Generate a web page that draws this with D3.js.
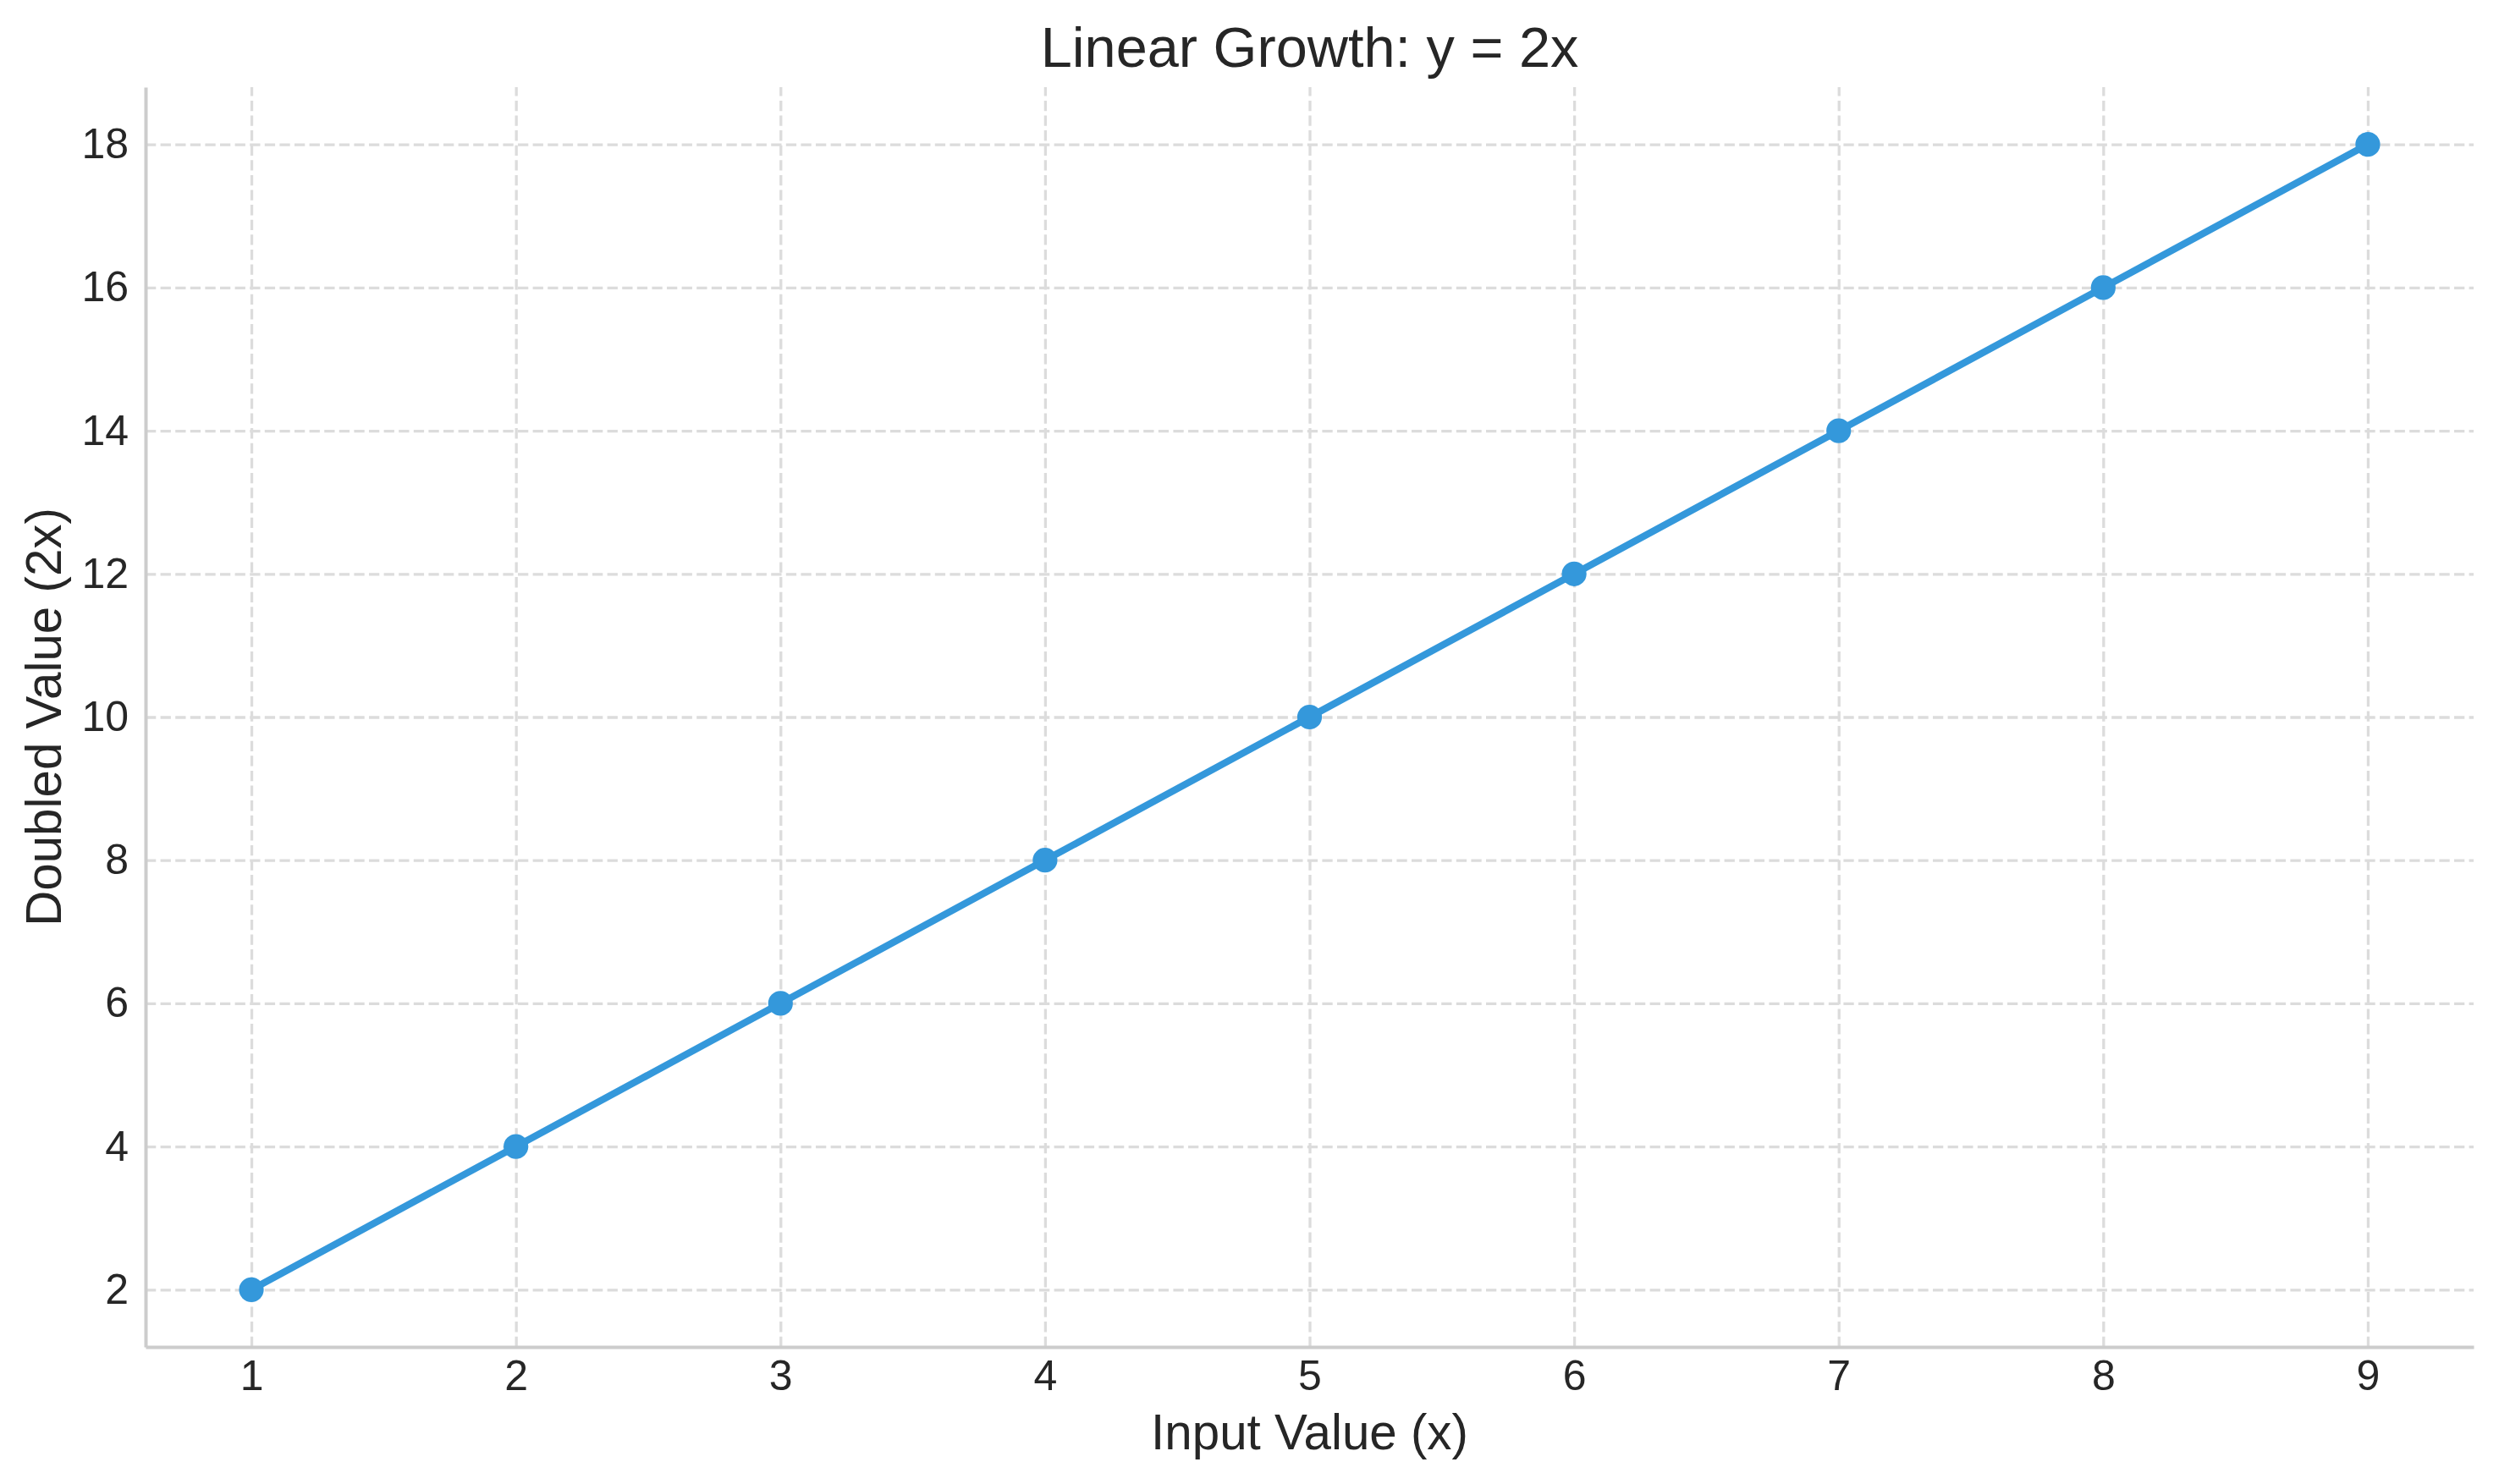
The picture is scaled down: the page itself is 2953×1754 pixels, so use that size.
<!DOCTYPE html>
<html lang="en">
<head>
    <meta charset="UTF-8">
    <title>Linear Growth: y = 2x</title>
    <script src="https://d3js.org/d3.v7.min.js"></script>
    <style>
        body { margin: 0; background: #fff; }
        text { font-family: "Liberation Sans", Arial, sans-serif; fill: #262626; }
    </style>
</head>
<body>
    <svg width="2953" height="1754"></svg>

    <script>
        // data
        const xValues = [1, 2, 3, 4, 5, 6, 7, 8, 9];
        const yValues = [2, 4, 6, 8, 10, 12, 14, 16, 18];
        const xTicks = [1, 2, 3, 4, 5, 6, 7, 8, 9];
        const yTicks = [2, 4, 6, 8, 10, 12, 14, 16, 18];

        const width = 2953;
        const height = 1754;
        const margin = { top: 103, right: 30, bottom: 162, left: 172 };
        const plotW = width - margin.left - margin.right;
        const plotH = height - margin.top - margin.bottom;

        const lineColor = "#3498db";
        const gridColor = "#dcdcdc";
        const spineColor = "#cccccc";

        const svg = d3.select("svg")
            .attr("width", width)
            .attr("height", height);

        const g = svg.append("g")
            .attr("transform", `translate(${margin.left},${margin.top})`);

        // 5% padding like matplotlib
        const x = d3.scaleLinear().domain([0.6, 9.4]).range([0, plotW]);
        const y = d3.scaleLinear().domain([1.2, 18.8]).range([plotH, 0]);

        // grid
        const gridX = g.append("g")
            .attr("transform", `translate(0,${plotH})`)
            .call(d3.axisBottom(x).tickValues(xTicks).tickSize(-plotH).tickFormat(""));
        const gridY = g.append("g")
            .call(d3.axisLeft(y).tickValues(yTicks).tickSize(-plotW).tickFormat(""));
        [gridX, gridY].forEach(gr => {
            gr.select(".domain").remove();
            gr.selectAll(".tick line")
                .attr("stroke", gridColor)
                .attr("stroke-width", 3.3)
                .attr("stroke-dasharray", "12.3,5.3");
        });

        // line + markers
        const pts = xValues.map((v, i) => [v, yValues[i]]);
        const line = d3.line().x(d => x(d[0])).y(d => y(d[1]));

        g.append("path")
            .datum(pts)
            .attr("d", line)
            .attr("fill", "none")
            .attr("stroke", lineColor)
            .attr("stroke-width", 8.3)
            .attr("stroke-linejoin", "round")
            .attr("stroke-linecap", "butt");

        g.selectAll("circle.pt")
            .data(pts)
            .enter().append("circle")
            .attr("class", "pt")
            .attr("cx", d => x(d[0]))
            .attr("cy", d => y(d[1]))
            .attr("r", 14.6)
            .attr("fill", lineColor);

        // axes (labels only, spines from domain)
        const xAxis = g.append("g")
            .attr("transform", `translate(0,${plotH})`)
            .call(d3.axisBottom(x).tickValues(xTicks).tickSize(0).tickPadding(15).tickFormat(d3.format("d")));
        const yAxis = g.append("g")
            .call(d3.axisLeft(y).tickValues(yTicks).tickSize(0).tickPadding(20).tickFormat(d3.format("d")));
        [xAxis, yAxis].forEach(ax => {
            ax.select(".domain")
                .attr("stroke", spineColor)
                .attr("stroke-width", 4);
            ax.selectAll(".tick text")
                .attr("font-family", "'Liberation Sans', Arial, sans-serif")
                .attr("font-size", 50)
                .attr("fill", "#262626");
        });

        // titles
        svg.append("text")
            .attr("x", margin.left + plotW / 2)
            .attr("y", 79)
            .attr("text-anchor", "middle")
            .attr("font-size", 66.7)
            .text("Linear Growth: y = 2x");

        svg.append("text")
            .attr("x", margin.left + plotW / 2)
            .attr("y", 1713)
            .attr("text-anchor", "middle")
            .attr("font-size", 58.3)
            .text("Input Value (x)");

        svg.append("text")
            .attr("transform", `translate(72,${margin.top + plotH / 2}) rotate(-90)`)
            .attr("text-anchor", "middle")
            .attr("font-size", 58.3)
            .text("Doubled Value (2x)");
    </script>
</body>
</html>
